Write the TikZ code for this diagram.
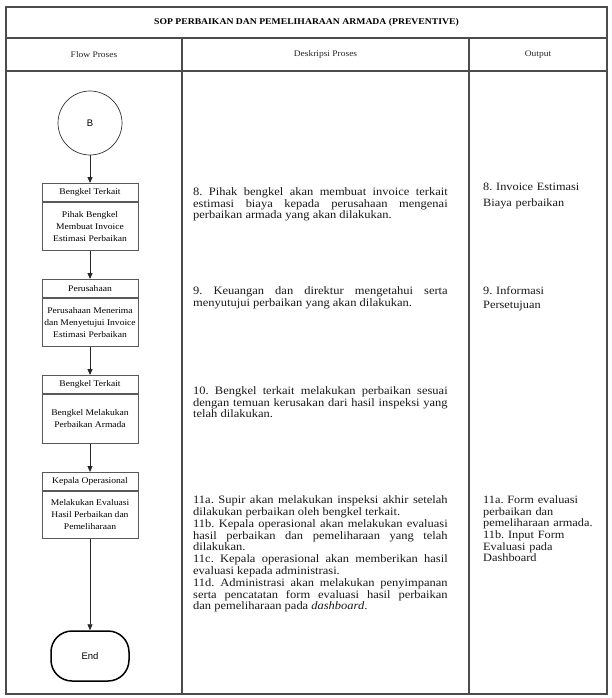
\documentclass[tikz,border=0pt]{standalone}
\usepackage{fontspec}
\setmainfont{Liberation Serif}[FakeStretch=1.1]
\newfontfamily\arialf{Liberation Sans}
\usetikzlibrary{arrows.meta}
\frenchspacing
\newcommand\titlefnt{\fontsize{8.8}{10}\selectfont\bfseries}
\newcommand\hdrfnt{\fontsize{8.6}{10}\selectfont}
\newcommand\boxfnt{\fontsize{8.7}{12}\selectfont}
\newcommand\sansfnt{\arialf\fontsize{9.5}{10}\selectfont}
\tikzset{
  tbl/.style={draw=black!70, line width=1.1pt},
  bhead/.style={draw=black!65, line width=0.9pt, minimum width=96pt, minimum height=18pt, inner sep=0pt, anchor=north, font=\boxfnt},
  bbody/.style={draw=black!65, line width=0.9pt, minimum width=96pt, inner sep=0pt, anchor=north, align=center, font=\boxfnt},
  circ/.style={circle, draw=black!80, line width=0.7pt, minimum size=64pt, inner sep=0pt, font=\sansfnt},
  endn/.style={draw=black, line width=1.5pt, rounded corners=21pt, minimum width=78pt, minimum height=50pt, inner sep=0pt, font=\sansfnt},
  arr/.style={draw=black!85, line width=0.9pt, -{Triangle[length=6pt,width=5pt]}},
  desc/.style={anchor=north west, inner sep=0pt, text width=254.5pt, align=justify, text=black!90},
  outp/.style={anchor=north west, inner sep=0pt, text width=122pt, align=left, text=black!90},
  hdr/.style={font=\hdrfnt, text=black!85, inner sep=0pt},
}
\begin{document}
\begin{tikzpicture}[x=1pt,y=-1pt]
\useasboundingbox[fill=white] (0,0) rectangle (611,698);
% table
\draw[tbl] (6,7) rectangle (607,694);
\draw[tbl] (6,38) -- (607,38);
\draw[tbl] (6,71) -- (607,71);
\draw[tbl] (182,38) -- (182,694);
\draw[tbl] (469,38) -- (469,694);
\node[font=\titlefnt, inner sep=0pt] (title) at (306.5,22.5) {SOP PERBAIKAN DAN PEMELIHARAAN ARMADA (PREVENTIVE)};
\node[hdr] (h1) at (94,54.5) {Flow Proses};
\node[hdr] (h2) at (325.5,54.5) {Deskripsi Proses};
\node[hdr] (h3) at (538,54.5) {Output};
% flow
\node[circ] (B) at (90,123) {B};
\node[bhead] (b1h) at (90,183) {Bengkel Terkait};
\node[bbody, minimum height=48pt] (b1b) at (b1h.south) {Pihak Bengkel\\Membuat Invoice\\Estimasi Perbaikan};
\node[bhead] (b2h) at (90,279) {Perusahaan};
\node[bbody, minimum height=48pt] (b2b) at (b2h.south) {Perusahaan Menerima\\dan Menyetujui Invoice\\Estimasi Perbaikan};
\node[bhead] (b3h) at (90,375) {Bengkel Terkait};
\node[bbody, minimum height=49pt] (b3b) at (b3h.south) {Bengkel Melakukan\\Perbaikan Armada};
\node[bhead] (b4h) at (90,472) {Kepala Operasional};
\node[bbody, minimum height=47pt] (b4b) at (b4h.south) {Melakukan Evaluasi\\Hasil Perbaikan dan\\Pemeliharaan};
\node[endn] (end) at (90,656) {End};
\draw[arr] (B.south) -- (b1h.north);
\draw[arr] (b1b.south) -- (b2h.north);
\draw[arr] (b2b.south) -- (b3h.north);
\draw[arr] (b3b.south) -- (b4h.north);
\draw[arr] (b4b.south) -- (end.north);
% descriptions
\node[desc, font=\fontsize{11.35}{11.5}\selectfont] (d8) at (193,187.5) {\strut 8. Pihak bengkel akan membuat invoice terkait\linebreak estimasi biaya kepada perusahaan mengenai\linebreak perbaikan armada yang akan dilakukan.};
\node[desc, font=\fontsize{11.35}{11.5}\selectfont] (d9) at (193,286.5) {\strut 9. Keuangan dan direktur mengetahui serta\linebreak menyutujui perbaikan yang akan dilakukan.};
\node[desc, font=\fontsize{11.35}{11.5}\selectfont] (d10) at (193,386.5) {\strut 10. Bengkel terkait melakukan perbaikan sesuai\linebreak dengan temuan kerusakan dari hasil inspeksi yang\linebreak telah dilakukan.};
\node[desc, font=\fontsize{11.35}{11.8}\selectfont] (d11) at (193,495.2) {\strut 11a. Supir akan melakukan inspeksi akhir setelah\linebreak dilakukan perbaikan oleh bengkel terkait.\par
11b. Kepala operasional akan melakukan evaluasi\linebreak hasil perbaikan dan pemeliharaan yang telah\linebreak dilakukan.\par
11c. Kepala operasional akan memberikan hasil\linebreak evaluasi kepada administrasi.\par
11d. Administrasi akan melakukan penyimpanan\linebreak serta pencatatan form evaluasi hasil perbaikan\linebreak dan pemeliharaan pada \textit{dashboard}.};
% outputs
\node[outp, font=\fontsize{11.2}{16}\selectfont] (o8) at (483,179.3) {\strut 8. Invoice Estimasi\\Biaya perbaikan};
\node[outp, font=\fontsize{11.2}{14}\selectfont] (o9) at (483,284.7) {\strut 9. Informasi\\Persetujuan};
\node[outp, font=\fontsize{11.2}{11.6}\selectfont] (o11) at (483,495.4) {\strut 11a. Form evaluasi\\perbaikan dan\\pemeliharaan armada.\\11b. Input Form\\Evaluasi pada\\Dashboard};
\end{tikzpicture}
\end{document}
